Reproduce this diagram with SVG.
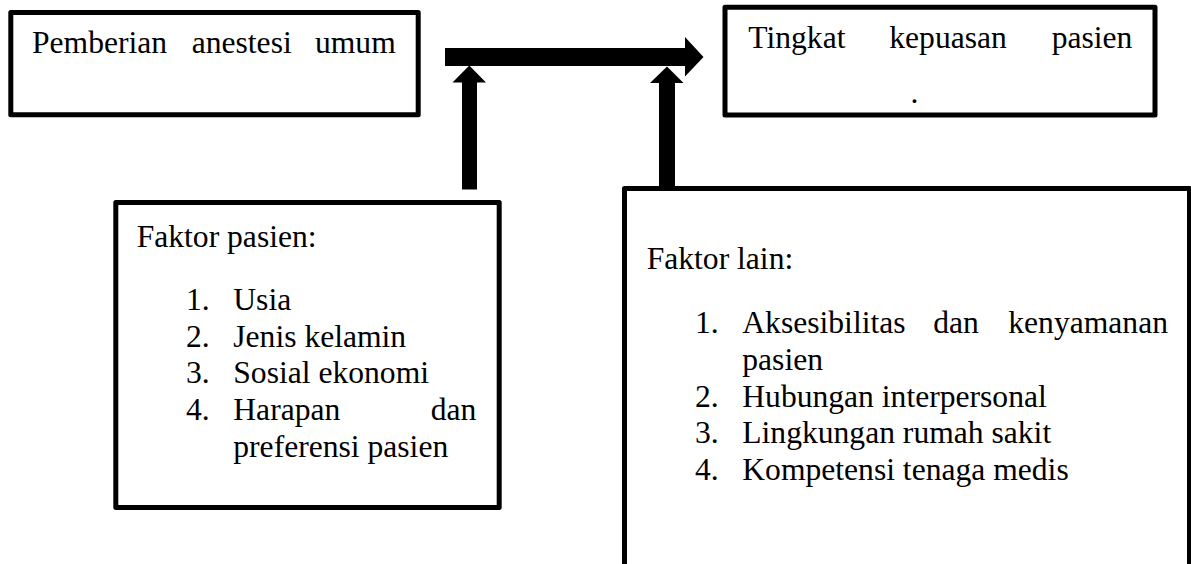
<svg xmlns="http://www.w3.org/2000/svg" width="1191" height="564" viewBox="0 0 1191 564">
  <style>
    .box { fill: #ffffff; stroke: #000000; stroke-width: 5; stroke-linejoin: round; }
    .txt { font-family: "Liberation Serif", "Times New Roman", serif; font-size: 31.6px; fill: #000000; }
    .arrow { fill: #000000; stroke: none; }
  </style>
  <rect width="1191" height="564" fill="#ffffff"/>

  <g id="connectors">
    <polygon class="arrow" points="445,48 685,48 685,37 703.5,57 685,76.5 685,66 445,66"/>
    <polygon class="arrow" points="462,189.5 462,82.5 452.5,82.5 469.3,65.5 486,82.5 477,82.5 477,189.5"/>
    <polygon class="arrow" points="659,188 659,83 650,83 667,66.5 683.5,83 675,83 675,188"/>
  </g>

  <g id="node-pemberian">
    <rect class="box" x="10.8" y="12.5" width="407.4" height="102.3"/>
    <text class="txt" y="53"><tspan x="32">Pemberian</tspan><tspan x="191.7">anestesi</tspan><tspan x="315">umum</tspan></text>
  </g>

  <g id="node-kepuasan">
    <rect class="box" x="725" y="7.3" width="430" height="107.7"/>
    <text class="txt" y="48.3"><tspan x="748.3">Tingkat</tspan><tspan x="889.3">kepuasan</tspan><tspan x="1051.7">pasien</tspan></text>
    <text class="txt" x="910.5" y="103">.</text>
  </g>

  <g id="node-faktor-pasien">
    <rect class="box" x="115.8" y="202.5" width="383.4" height="305"/>
    <text class="txt" x="136.7" y="246.7">Faktor pasien:</text>
    <text class="txt" x="186" y="310">1.</text>
    <text class="txt" x="233.3" y="310">Usia</text>
    <text class="txt" x="186" y="346.7">2.</text>
    <text class="txt" x="233.3" y="346.7">Jenis kelamin</text>
    <text class="txt" x="186" y="383.3">3.</text>
    <text class="txt" x="233.3" y="383.3">Sosial ekonomi</text>
    <text class="txt" x="186" y="420">4.</text>
    <text class="txt" y="420"><tspan x="233.3">Harapan</tspan><tspan x="430.7">dan</tspan></text>
    <text class="txt" x="233.3" y="456.7">preferensi pasien</text>
  </g>

  <g id="node-faktor-lain">
    <rect class="box" x="624.5" y="188.5" width="565" height="400"/>
    <text class="txt" x="646.7" y="269.3">Faktor lain:</text>
    <text class="txt" x="695" y="333.3">1.</text>
    <text class="txt" y="333.3"><tspan x="742.3">Aksesibilitas</tspan><tspan x="933.3">dan</tspan><tspan x="1008.3">kenyamanan</tspan></text>
    <text class="txt" x="742.3" y="370">pasien</text>
    <text class="txt" x="695" y="406.7">2.</text>
    <text class="txt" x="742.3" y="406.7">Hubungan interpersonal</text>
    <text class="txt" x="695" y="443.3">3.</text>
    <text class="txt" x="742.3" y="443.3">Lingkungan rumah sakit</text>
    <text class="txt" x="695" y="480">4.</text>
    <text class="txt" x="742.3" y="480">Kompetensi tenaga medis</text>
  </g>
</svg>
